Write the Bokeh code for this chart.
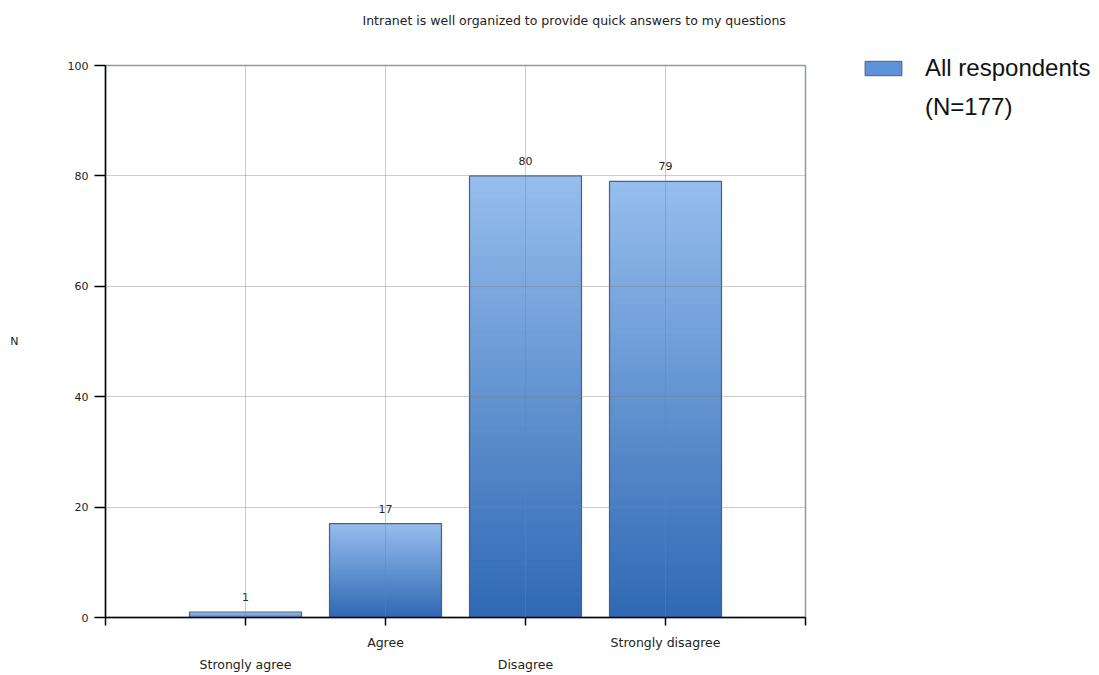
from bokeh.plotting import figure
from bokeh.models import (Range1d, FixedTicker, LinearAxis, Title, Legend, LegendItem,
                          ColumnDataSource, Grid)
from bokeh.core.properties import value
from bokeh.embed import file_html
from bokeh.resources import INLINE

# ---- data ----
categories = ["Strongly agree", "Agree", "Disagree", "Strongly disagree"]
counts = [1, 17, 80, 79]
series_name = "All respondents"
n_total = 177
title_text = "Intranet is well organized to provide quick answers to my questions"
y_label = "N"
y_ticks = [0, 20, 40, 60, 80, 100]

FONT = "DejaVu Sans"
TOP = (149, 189, 237)
BOT = (48, 105, 180)
N_SLICES = 60
CAT_FS = "12.5px"

xs = list(range(1, len(categories) + 1))

p = figure(width=1099, height=675, frame_width=700, frame_height=552,
           x_range=Range1d(0, len(categories) + 1), y_range=Range1d(0, 100),
           output_backend="svg", toolbar_location=None,
           min_border_left=105, min_border_right=294, min_border_top=65, min_border_bottom=58,
           x_axis_type=None)
p.outline_line_color = "#8C9BB0"
p.outline_line_width = 1.5

# gradient bars built from slices
bw = 0.8
lefts, rights, bots, tops, cols = [], [], [], [], []
for x, v in zip(xs, counts):
    for k in range(N_SLICES):
        t = k / (N_SLICES - 1)
        c = tuple(int(round(BOT[j] + (TOP[j] - BOT[j]) * t)) for j in range(3))
        lefts.append(x - bw / 2)
        rights.append(x + bw / 2)
        bots.append(v * k / N_SLICES)
        tops.append(min(v, v * (k + 1.6) / N_SLICES))
        cols.append("#%02x%02x%02x" % c)
p.quad(left=lefts, right=rights, bottom=bots, top=tops, fill_color=cols, line_color=None)

src = ColumnDataSource(dict(x=xs, top=counts, lab=[str(c) for c in counts],
                            left=[x - bw / 2 for x in xs], right=[x + bw / 2 for x in xs],
                            bottom=[0] * len(xs)))
outline = p.quad(left="left", right="right", bottom="bottom", top="top", source=src,
                 fill_color="#5E8FD2", fill_alpha=0, line_color="#4F5F78", line_width=1.2)
p.text(x="x", y="top", text="lab", source=src, text_align="center", text_baseline="bottom",
       y_offset=-11, text_font=value(FONT), text_font_size="11px", text_color="#222222")

# axes
yax = p.yaxis[0]
yax.ticker = FixedTicker(ticks=y_ticks)
yax.axis_line_color = "black"
yax.axis_line_width = 1.5
yax.major_tick_line_color = "black"
yax.major_tick_line_width = 1.5
yax.major_tick_out = 11
yax.major_tick_in = 0
yax.minor_tick_line_color = None
yax.major_label_text_font = FONT
yax.major_label_text_font_size = "11px"
yax.major_label_text_color = "#222222"
yax.major_label_standoff = 6
yax.axis_label = y_label
yax.axis_label_text_font = FONT
yax.axis_label_text_font_size = "11px"
yax.axis_label_text_font_style = "normal"
yax.axis_label_text_color = "#222222"
yax.axis_label_standoff = 46
try:
    yax.axis_label_orientation = "horizontal"
except Exception:
    pass

xax1 = LinearAxis(ticker=FixedTicker(ticks=list(range(0, len(categories) + 2))),
                  major_label_overrides={i: (categories[i - 1] if i in xs and i % 2 == 0 else "")
                                         for i in range(0, len(categories) + 2)})
xax1.axis_line_color = "black"
xax1.axis_line_width = 1.5
xax1.major_tick_line_color = "black"
xax1.major_tick_line_width = 1.5
xax1.major_tick_out = 8
xax1.major_tick_in = 0
xax1.minor_tick_line_color = None
xax1.major_label_text_font = FONT
xax1.major_label_text_font_size = CAT_FS
xax1.major_label_text_color = "#222222"
xax1.major_label_standoff = 9
p.add_layout(xax1, "below")

odd = [x for x in xs if x % 2 == 1]
xax2 = LinearAxis(ticker=FixedTicker(ticks=odd),
                  major_label_overrides={x: categories[x - 1] for x in odd})
xax2.axis_line_color = None
xax2.major_tick_line_color = None
xax2.minor_tick_line_color = None
xax2.major_label_text_font = FONT
xax2.major_label_text_font_size = CAT_FS
xax2.major_label_text_color = "#222222"
xax2.major_label_standoff = -2
p.add_layout(xax2, "below")

# invisible spacer axis above the frame (pushes the title up)
mid = (len(categories) + 1) / 2
spacer = LinearAxis(ticker=FixedTicker(ticks=[mid]), major_label_overrides={mid: ""})
spacer.axis_line_color = None
spacer.major_tick_line_color = None
spacer.minor_tick_line_color = None
spacer.major_tick_out = 38
spacer.major_tick_in = 0
spacer.major_label_standoff = 0
spacer.major_label_text_font_size = "1px"
p.add_layout(spacer, "above")

# grid
xgrid = Grid(dimension=0, ticker=FixedTicker(ticks=xs))
p.add_layout(xgrid)
p.ygrid.ticker = FixedTicker(ticks=y_ticks)
for g in (xgrid, p.ygrid[0]):
    g.grid_line_color = "#808080"
    g.grid_line_alpha = 0.4
    g.level = "overlay"

# title
p.add_layout(Title(text=title_text, align="left", offset=257, standoff=0,
                   text_font=FONT, text_font_size=CAT_FS,
                   text_font_style="normal", text_color="#222222"), "above")

# legend
dummy = p.quad(left=[0], right=[0], bottom=[0], top=[0], fill_alpha=0, line_alpha=0)
swatch = p.quad(left=[0], right=[0], bottom=[0], top=[0], fill_color="#5F92D6",
                line_color="#4F5F78")
legend = Legend(items=[LegendItem(label=series_name, renderers=[swatch]),
                       LegendItem(label="(N=%d)" % n_total, renderers=[dummy])],
                location=(55, 496), border_line_color=None, background_fill_alpha=0,
                padding=0, margin=0, spacing=11, glyph_width=46, glyph_height=18,
                label_height=20, label_standoff=19,
                label_text_font="Liberation Sans", label_text_font_size="24px",
                label_text_color="#111111")
p.add_layout(legend, "right")

open("out.html", "w").write(file_html(p, INLINE))
